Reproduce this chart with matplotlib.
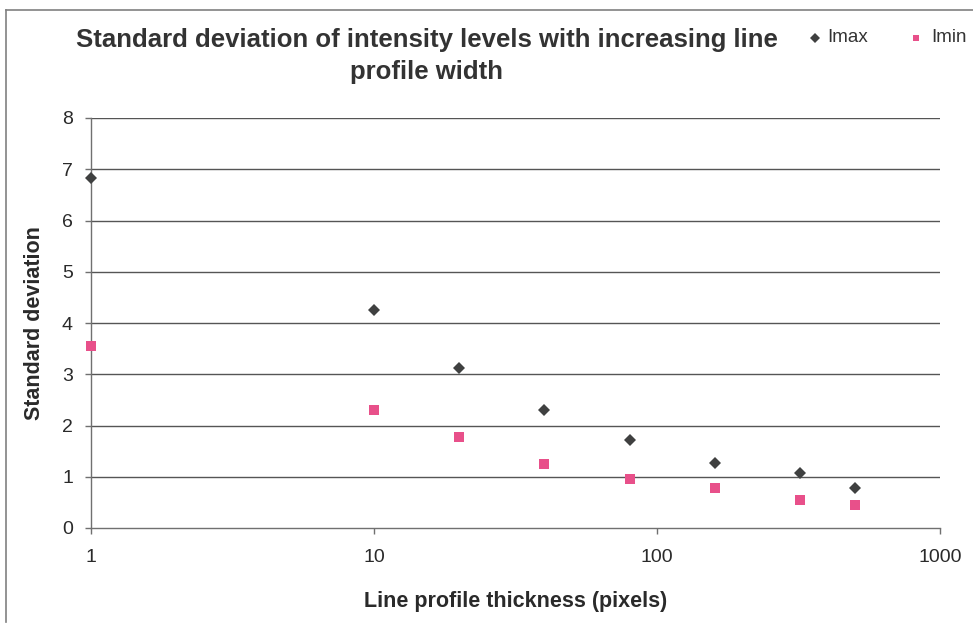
import matplotlib
matplotlib.use("Agg")
import matplotlib.pyplot as plt
from matplotlib.lines import Line2D
from matplotlib.ticker import FixedLocator, NullLocator

plt.rcParams['font.family'] = ['Liberation Sans', 'DejaVu Sans']

# Line profile thickness (pixels)
thickness = [1, 10, 20, 40, 80, 160, 320, 500]
# Standard deviation of intensity
imax = [6.83, 4.25, 3.13, 2.31, 1.71, 1.26, 1.08, 0.79]
imin = [3.55, 2.30, 1.77, 1.24, 0.96, 0.78, 0.55, 0.44]

x_ticks = [1, 10, 100, 1000]
x_tick_labels = ["1", "10", "100", "1000"]
y_ticks = [0, 1, 2, 3, 4, 5, 6, 7, 8]

title = "Standard deviation of intensity levels with increasing line\nprofile width"
x_label = "Line profile thickness (pixels)"
y_label = "Standard deviation"

W, H = 973, 624
fig = plt.figure(figsize=(W / 100, H / 100), dpi=100)
fig.patch.set_facecolor("white")

ax = fig.add_axes([91 / W, 1 - 528 / H, (940 - 91) / W, (528 - 118) / H])
ax.set_xscale("log")
ax.set_xlim(1, 1000)
ax.set_ylim(0, 8)

grid_col = "#555555"
for y in y_ticks[1:]:
    ax.axhline(y, color=grid_col, lw=1.0, zorder=1)

ax.plot(thickness, imax, linestyle="none", marker="D", markersize=6.5,
        color="#3f4040", markeredgewidth=0, zorder=3, clip_on=False)
ax.plot(thickness, imin, linestyle="none", marker="s", markersize=6.5,
        color="#e8508a", markeredgewidth=0, zorder=3, clip_on=False)

for side in ("top", "right"):
    ax.spines[side].set_visible(False)
for side in ("left", "bottom"):
    ax.spines[side].set_color("#707070")
    ax.spines[side].set_linewidth(1.0)

ax.xaxis.set_major_locator(FixedLocator(x_ticks))
ax.xaxis.set_minor_locator(NullLocator())
ax.set_xticklabels(x_tick_labels)
ax.set_yticks(y_ticks)
ax.tick_params(axis="both", direction="out", length=4, width=1.0,
               color="#707070", labelsize=14, labelcolor="#2a2a2a")
ax.tick_params(axis="x", pad=11)
ax.tick_params(axis="y", pad=9)

ax.set_xlabel(x_label, fontsize=15.5, fontweight="bold", color="#2a2a2a", labelpad=18)
ax.set_ylabel(y_label, fontsize=15.5, fontweight="bold", color="#2a2a2a", labelpad=12)

fig.text(427 / W, 1 - 56 / H, title, ha="center", va="center", fontsize=18.5,
         fontweight="bold", color="#333333", linespacing=1.42)

# legend entries at the top right
fig.add_artist(Line2D([815 / W], [1 - 38 / H], marker="D", markersize=5,
                      color="#3f4040", markeredgewidth=0, linestyle="none"))
fig.text(827 / W, 1 - 38 / H, "Imax", ha="left", va="center", fontsize=13.5,
         color="#333333")
fig.add_artist(Line2D([916 / W], [1 - 38 / H], marker="s", markersize=5,
                      color="#e8508a", markeredgewidth=0, linestyle="none"))
fig.text(931 / W, 1 - 38 / H, "Imin", ha="left", va="center", fontsize=13.5,
         color="#333333")

# chart border
fig.add_artist(Line2D([6 / W, 6 / W], [1 - 10 / H, 1 - 622 / H], color="#808080", lw=1.2))
fig.add_artist(Line2D([6 / W, 1.0], [1 - 10 / H, 1 - 10 / H], color="#808080", lw=1.2))

fig.savefig("out.png", dpi=100)
